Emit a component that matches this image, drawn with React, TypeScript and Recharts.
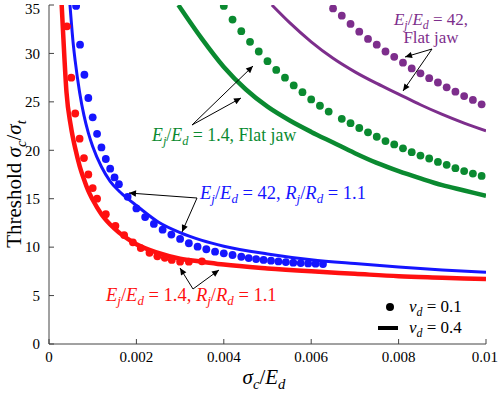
import React from 'react';
import { ComposedChart, Line, Scatter, XAxis, YAxis } from 'recharts';

const xTicks = [0, 0.002, 0.004, 0.006, 0.008, 0.01];
const xTickLabels = ['0', '0.002', '0.004', '0.006', '0.008', '0.01'];
const yTicks = [0, 5, 10, 15, 20, 25, 30, 35];

// nu_d = 0.1 (dots)
const redDotX = [0.00041, 0.00051, 0.0006, 0.0007, 0.0008, 0.0009, 0.001, 0.0011, 0.0013, 0.00152, 0.00172, 0.00192, 0.0021, 0.0023, 0.00248, 0.00265, 0.00281, 0.003, 0.0032, 0.0035];
const redDotY = [32.8, 27.5, 23.8, 21.2, 19.2, 17.5, 16.1, 15.0, 13.4, 12.2, 11.25, 10.5, 9.9, 9.42, 9.05, 8.9, 8.68, 8.5, 8.5, 8.54];

const blueDotX = [0.00062, 0.00071, 0.00081, 0.0009, 0.001, 0.0011, 0.0012, 0.0013, 0.0014, 0.0015, 0.0016, 0.0018, 0.002, 0.0022, 0.0024, 0.0026, 0.0028, 0.003, 0.0032, 0.0034, 0.0036, 0.0038, 0.004, 0.0042, 0.0044, 0.00457, 0.00474, 0.00491, 0.00508, 0.00525, 0.00542, 0.00559, 0.00576, 0.00593, 0.0061, 0.00627];
const blueDotY = [34.9, 30.9, 27.8, 25.4, 23.4, 21.7, 20.3, 19.1, 18.1, 17.2, 16.5, 15.2, 14.0, 13.1, 12.4, 11.8, 11.3, 10.85, 10.4, 10.05, 9.78, 9.53, 9.36, 9.19, 9.01, 8.87, 8.77, 8.68, 8.6, 8.53, 8.46, 8.4, 8.36, 8.32, 8.29, 8.26];

const greenDotX = [0.004, 0.0042, 0.0044, 0.0046, 0.0048, 0.005, 0.0052, 0.0054, 0.0056, 0.0058, 0.006, 0.0062, 0.0064, 0.0067, 0.0069, 0.0071, 0.0073, 0.0075, 0.0077, 0.0079, 0.0081, 0.0083, 0.0085, 0.0087, 0.0089, 0.0091, 0.0093, 0.0095, 0.0097, 0.0099];
const greenDotY = [34.9, 33.5, 32.3, 31.2, 30.2, 29.2, 28.3, 27.5, 26.7, 26.0, 25.25, 24.6, 24.0, 23.25, 22.8, 22.3, 21.85, 21.4, 20.95, 20.6, 20.2, 19.8, 19.45, 19.15, 18.8, 18.5, 18.15, 17.85, 17.6, 17.35];

const purpleDotX = [0.0065, 0.0067, 0.0069, 0.0071, 0.0073, 0.0075, 0.0077, 0.0079, 0.0081, 0.0083, 0.0085, 0.0087, 0.0089, 0.0091, 0.0093, 0.0095, 0.0097, 0.0099];
const purpleDotY = [34.65, 33.9, 33.05, 32.25, 31.5, 30.9, 30.2, 29.65, 29.05, 28.45, 27.95, 27.45, 27.0, 26.5, 26.05, 25.6, 25.2, 24.75];

// nu_d = 0.4 (lines)
const redLineX = [0.00029, 0.00033, 0.0004, 0.0005, 0.0006, 0.0007, 0.0008, 0.0009, 0.001, 0.0012, 0.0015, 0.002, 0.0025, 0.003, 0.0035, 0.004, 0.005, 0.006, 0.007, 0.008, 0.009, 0.01];
const redLineY = [35, 31.5, 26.0, 22.5, 20.2, 18.4, 17.0, 15.8, 14.9, 13.4, 11.9, 10.3, 9.4, 8.8, 8.5, 8.2, 7.8, 7.5, 7.25, 7.0, 6.85, 6.7];

const blueLineX = [0.00048, 0.00055, 0.0006, 0.0007, 0.0008, 0.0009, 0.001, 0.0012, 0.0014, 0.0016, 0.0018, 0.002, 0.0025, 0.003, 0.0035, 0.004, 0.005, 0.006, 0.007, 0.008, 0.009, 0.01];
const blueLineY = [35, 31.2, 29.2, 26.0, 23.6, 21.8, 20.4, 18.3, 16.8, 15.8, 15.0, 14.3, 12.6, 11.5, 10.7, 10.1, 9.3, 8.7, 8.3, 7.95, 7.65, 7.4];

const greenLineX = [0.00296, 0.0035, 0.004, 0.0045, 0.005, 0.0055, 0.006, 0.0065, 0.007, 0.0075, 0.008, 0.0085, 0.009, 0.0095, 0.01];
const greenLineY = [35, 31.5, 28.6, 26.3, 24.5, 23.1, 21.9, 20.8, 19.7, 18.7, 17.85, 17.1, 16.4, 15.85, 15.3];

const purpleLineX = [0.0051, 0.0055, 0.006, 0.0065, 0.007, 0.0075, 0.008, 0.0085, 0.009, 0.0095, 0.01];
const purpleLineY = [35, 33.2, 31.2, 29.5, 28.1, 26.9, 25.8, 24.7, 23.7, 22.8, 22.0];

const RED = '#ff1010';
const BLUE = '#1515ff';
const GREEN = '#0a8a30';
const PURPLE = '#7d2e8c';

const zip = (xs: number[], ys: number[]) => xs.map((x, i) => ({ x, y: ys[i] }));

const FONT = "'Liberation Serif', serif";

type Part = [string, 'i' | 's' | 'n'];

function MathText({ x, y, parts, size, color, anchor = 'start', transform }: { x: number; y: number; parts: Part[]; size: number; color: string; anchor?: string; transform?: string }) {
  const shift = size * 0.22;
  let prevSub = false;
  return (
    <text x={x} y={y} fontFamily={FONT} fontSize={size} fill={color} textAnchor={anchor as any} transform={transform} style={{ whiteSpace: 'pre', fontFamily: FONT }}>
      {parts.map(([t, k], i) => {
        let dy = 0;
        if (k === 's' && !prevSub) dy = shift;
        if (k !== 's' && prevSub) dy = -shift;
        prevSub = k === 's';
        return (
          <tspan key={i} dy={dy || undefined} fontStyle={k === 'n' ? 'normal' : 'italic'} fontSize={k === 's' ? size * 0.7 : size}>
            {t}
          </tspan>
        );
      })}
    </text>
  );
}

const dotShape = (color: string) => (p: any) => <circle cx={p.cx} cy={p.cy} r={3.9} fill={color} />;

const ejed: Part[] = [['E', 'i'], ['j', 's'], ['/', 'n'], ['E', 'i'], ['d', 's']];
const rjrd: Part[] = [['R', 'i'], ['j', 's'], ['/', 'n'], ['R', 'i'], ['d', 's']];

const tickStyle = { fill: '#000', fontSize: 15, fontFamily: FONT, style: { fontFamily: FONT } };

export default function App() {
  return (
    <div style={{ position: 'absolute', left: 0, top: 0, width: 498, height: 394, background: '#fff', fontFamily: FONT }}>
      <ComposedChart width={498} height={394} margin={{ top: 5, right: 12, bottom: 0, left: 0 }} style={{ fontFamily: FONT }}>
        <XAxis xAxisId="b" type="number" dataKey="x" domain={[0, 0.01]} ticks={xTicks} allowDataOverflow
          tickFormatter={(v: number) => xTickLabels[xTicks.findIndex((t) => Math.abs(t - v) < 1e-9)] ?? ''}
          height={50} tickSize={-5} tickMargin={12} stroke="#444" tick={tickStyle} />
        <XAxis xAxisId="t" orientation="top" type="number" domain={[0, 0.01]} ticks={xTicks} allowDataOverflow
          height={0} tickSize={-5} tick={false} stroke="#444" />
        <YAxis yAxisId="l" type="number" dataKey="y" domain={[0, 35]} ticks={yTicks} allowDataOverflow
          width={49} tickSize={-5} tickMargin={14} stroke="#444" tick={tickStyle} />
        <YAxis yAxisId="r" orientation="right" type="number" domain={[0, 35]} ticks={yTicks} allowDataOverflow
          width={0} tickSize={-5} tick={false} stroke="#444" />

        <Line xAxisId="b" yAxisId="l" data={zip(redLineX, redLineY)} dataKey="y" type="monotone" stroke={RED} strokeWidth={4.5} dot={false} isAnimationActive={false} />
        <Line xAxisId="b" yAxisId="l" data={zip(blueLineX, blueLineY)} dataKey="y" type="monotone" stroke={BLUE} strokeWidth={3} dot={false} isAnimationActive={false} />
        <Line xAxisId="b" yAxisId="l" data={zip(greenLineX, greenLineY)} dataKey="y" type="monotone" stroke={GREEN} strokeWidth={4.5} dot={false} isAnimationActive={false} />
        <Line xAxisId="b" yAxisId="l" data={zip(purpleLineX, purpleLineY)} dataKey="y" type="monotone" stroke={PURPLE} strokeWidth={3} dot={false} isAnimationActive={false} />

        <Scatter xAxisId="b" yAxisId="l" data={zip(redDotX, redDotY)} dataKey="y" fill={RED} shape={dotShape(RED)} isAnimationActive={false} />
        <Scatter xAxisId="b" yAxisId="l" data={zip(blueDotX, blueDotY)} dataKey="y" fill={BLUE} shape={dotShape(BLUE)} isAnimationActive={false} />
        <Scatter xAxisId="b" yAxisId="l" data={zip(greenDotX, greenDotY)} dataKey="y" fill={GREEN} shape={dotShape(GREEN)} isAnimationActive={false} />
        <Scatter xAxisId="b" yAxisId="l" data={zip(purpleDotX, purpleDotY)} dataKey="y" fill={PURPLE} shape={dotShape(PURPLE)} isAnimationActive={false} />
      </ComposedChart>

      <svg width={498} height={394} style={{ position: 'absolute', left: 0, top: 0, pointerEvents: 'none' }}>
        <defs>
          <marker id="ah" viewBox="0 0 10 10" refX="10" refY="5" markerWidth="9" markerHeight="7" markerUnits="userSpaceOnUse" orient="auto">
            <path d="M0,0.5 L10,5 L0,9.5 z" fill="#000" />
          </marker>
        </defs>
        {/* axis labels */}
        <MathText x={0} y={0} transform="translate(21,184) rotate(-90)" anchor="middle" size={21} color="#000"
          parts={[['Threshold ', 'n'], ['σ', 'i'], ['c', 's'], ['/', 'n'], ['σ', 'i'], ['t', 's']]} />
        <MathText x={264} y={384} anchor="middle" size={21} color="#000"
          parts={[['σ', 'i'], ['c', 's'], ['/', 'n'], ['E', 'i'], ['d', 's']]} />

        {/* purple annotation */}
        <MathText x={431} y={25} anchor="middle" size={17} color={PURPLE} parts={[...ejed, [' = 42,', 'n']]} />
        <MathText x={431} y={43} anchor="middle" size={17} color={PURPLE} parts={[['Flat jaw', 'n']]} />
        <line x1={432} y1={49} x2={405} y2={57} stroke="#000" strokeWidth={1} markerEnd="url(#ah)" />
        <line x1={432} y1={49} x2={403} y2={91} stroke="#000" strokeWidth={1} markerEnd="url(#ah)" />

        {/* green annotation */}
        <MathText x={152} y={141} size={17.8} color={GREEN} parts={[...ejed, [' = 1.4, Flat jaw', 'n']]} />
        <line x1={192} y1={125} x2={253} y2={66} stroke="#000" strokeWidth={1} markerEnd="url(#ah)" />
        <line x1={192} y1={125} x2={241} y2={98} stroke="#000" strokeWidth={1} markerEnd="url(#ah)" />

        {/* blue annotation */}
        <MathText x={200} y={199} size={18.5} color={BLUE} parts={[...ejed, [' = 42, ', 'n'], ...rjrd, [' = 1.1', 'n']]} />
        <line x1={197} y1={198} x2={129} y2={193} stroke="#000" strokeWidth={1} markerEnd="url(#ah)" />
        <line x1={197} y1={198} x2={182} y2={232} stroke="#000" strokeWidth={1} markerEnd="url(#ah)" />

        {/* red annotation */}
        <MathText x={106} y={301} size={18.5} color={RED} parts={[...ejed, [' = 1.4, ', 'n'], ...rjrd, [' = 1.1', 'n']]} />
        <line x1={193} y1={289} x2={180} y2={268} stroke="#000" strokeWidth={1} markerEnd="url(#ah)" />
        <line x1={193} y1={289} x2={219} y2={270} stroke="#000" strokeWidth={1} markerEnd="url(#ah)" />

        {/* legend */}
        <circle cx={390} cy={307} r={4} fill="#000" />
        <MathText x={409} y={312} size={17} color="#000" parts={[['ν', 'i'], ['d', 's'], [' = 0.1', 'n']]} />
        <line x1={378} y1={328} x2={398} y2={328} stroke="#000" strokeWidth={4} />
        <MathText x={409} y={333} size={17} color="#000" parts={[['ν', 'i'], ['d', 's'], [' = 0.4', 'n']]} />
      </svg>
    </div>
  );
}
